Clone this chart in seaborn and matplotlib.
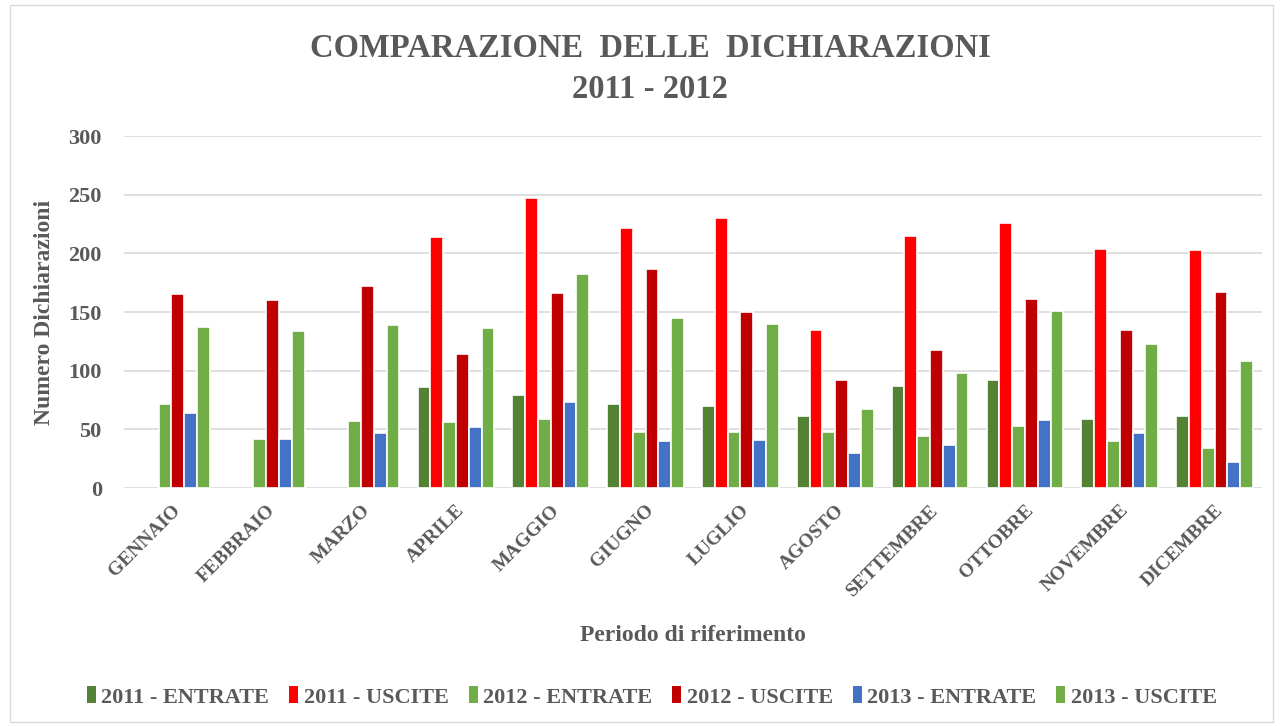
import pandas as pd
import matplotlib.pyplot as plt
import seaborn as sns
from matplotlib.patches import Patch, Rectangle

# dati
mesi = ['GENNAIO', 'FEBBRAIO', 'MARZO', 'APRILE', 'MAGGIO', 'GIUGNO',
        'LUGLIO', 'AGOSTO', 'SETTEMBRE', 'OTTOBRE', 'NOVEMBRE', 'DICEMBRE']
serie = ['2011 - ENTRATE', '2011 - USCITE', '2012 - ENTRATE',
         '2012 - USCITE', '2013 - ENTRATE', '2013 - USCITE']
entrate_2011 = [None, None, None, 86, 79, 72, 70, 61, 87, 92, 59, 61]
uscite_2011 = [None, None, None, 214, 247, 222, 230, 135, 215, 226, 204, 203]
entrate_2012 = [72, 42, 57, 56, 59, 48, 48, 48, 44, 53, 40, 34]
uscite_2012 = [165, 160, 172, 114, 166, 187, 150, 92, 118, 161, 135, 167]
entrate_2013 = [64, 42, 47, 52, 73, 40, 41, 30, 37, 58, 47, 22]
uscite_2013 = [137, 134, 139, 136, 182, 145, 140, 67, 98, 151, 123, 108]
colori = ['#548235', '#FF0000', '#70AD47', '#C00000', '#4472C4', '#70AD47']

valori = [entrate_2011, uscite_2011, entrate_2012, uscite_2012, entrate_2013, uscite_2013]
righe = []
for nome, vals in zip(serie, valori):
    for mese, v in zip(mesi, vals):
        righe.append({'mese': mese, 'serie': nome, 'valore': v})
df = pd.DataFrame(righe)
df['valore'] = df['valore'].astype(float)

sns.set_style('white')
plt.rcParams['font.family'] = ['Liberation Serif', 'DejaVu Serif']
grigio = '#595959'

fig = plt.figure(figsize=(12.81, 7.26), dpi=100)
ax = fig.add_axes([124 / 1281, 1 - 488 / 726, (1262 - 124) / 1281, (488 - 136) / 726])

sns.barplot(data=df, x='mese', y='valore', hue='serie', order=mesi,
            hue_order=serie, palette=colori, width=0.81, edgecolor='white',
            linewidth=1.2, saturation=1, legend=False, ax=ax)

ax.set_ylim(0, 300)
ax.set_yticks(range(0, 301, 50))
ax.yaxis.grid(True, color='#D9D9D9', linewidth=1.2)
ax.set_axisbelow(True)
for s in ax.spines.values():
    s.set_visible(False)
ax.tick_params(length=0)
ax.set_xlim(-0.5, 11.5)

for lbl in ax.get_yticklabels():
    lbl.set_fontsize(16)
    lbl.set_fontweight('bold')
    lbl.set_color(grigio)
ax.tick_params(axis='y', pad=16)
ax.set_xticks(range(12))
ax.set_xticklabels(mesi, rotation=45, ha='right', rotation_mode='anchor',
                   fontsize=14, fontweight='bold', color=grigio)
ax.tick_params(axis='x', pad=10)

ax.set_xlabel('Periodo di riferimento', fontsize=17, fontweight='bold',
              color=grigio, labelpad=18)
ax.set_ylabel('Numero Dichiarazioni', fontsize=17, fontweight='bold',
              color=grigio, labelpad=10)

fig.text(650 / 1281, 1 - 69 / 726, 'COMPARAZIONE  DELLE  DICHIARAZIONI\n2011 - 2012',
         ha='center', va='center', fontsize=23.5, fontweight='bold',
         color=grigio, linespacing=1.45)

handles = [Patch(facecolor=c, edgecolor='none') for c in colori]
fig.legend(handles, serie, loc='center', bbox_to_anchor=(652 / 1281, 1 - 697 / 726),
           ncol=6, frameon=False, handlelength=0.4, handleheight=0.8,
           handletextpad=0.25, columnspacing=0.9,
           prop={'size': 16, 'weight': 'bold'}, labelcolor=grigio)

fig.patches.append(Rectangle((10 / 1281, 4 / 726), 1263 / 1281, 717 / 726,
                             transform=fig.transFigure, fill=False,
                             edgecolor='#D9D9D9', linewidth=1))

plt.savefig('out.png', dpi=100)
